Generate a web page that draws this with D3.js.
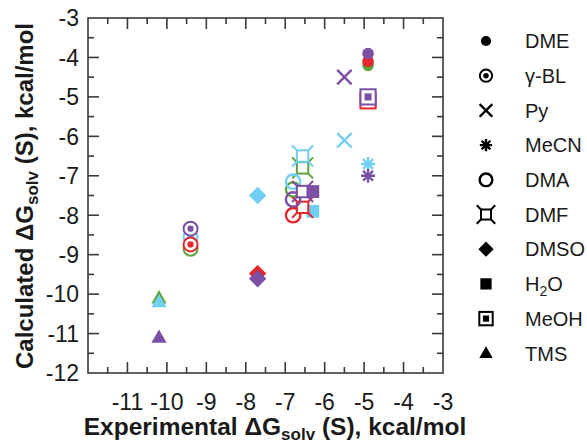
<!DOCTYPE html>
<html>
<head>
<meta charset="utf-8">
<script src="https://cdn.jsdelivr.net/npm/d3@7"></script>
<style>
  body { margin: 0; background: #fff; }
  text { font-family: "Liberation Sans", Arial, Helvetica, sans-serif; fill: #1a1a1a; }
</style>
</head>
<body>
<script>
// solvents, in legend order
var solvents = ["DME", "γ-BL", "Py", "MeCN", "DMA", "DMF", "DMSO", "H2O", "MeOH", "TMS"];
var shapes   = ["dot", "ring", "times", "star", "circle", "dmf", "diamond", "square", "meoh", "triangle"];
// experimental values (x)
var experimental = [-4.9, -9.4, -5.5, -4.9, -6.8, -6.56, -7.7, -6.3, -4.9, -10.2];
// calculated values (y), one array per colour; null = not plotted
var calcGreen  = [-4.2, -8.85, null, null, -7.35, -6.8, null, null, null, -10.1];
var calcBlue   = [null, -8.55, -6.1, -6.7, -7.15, -6.5, -7.5, -7.9, null, -10.2];
var calcRed    = [-4.1, -8.74, null, null, -8.0, -7.8, -9.48, null, -5.1, null];
var calcPurple = [-3.9, -8.34, -4.5, -7.0, -7.6, -7.4, -9.61, -7.4, -5.0, -11.1];
var ticks = [-12, -11, -10, -9, -8, -7, -6, -5, -4, -3];

var series = [
  {color: "#5ea23f", values: calcGreen},
  {color: "#6fcff4", values: calcBlue},
  {color: "#e3272c", values: calcRed},
  {color: "#7b4fa3", values: calcPurple}
];

var W = 587, H = 443;
var m = {left: 88, right: 144, top: 18, bottom: 70};

var svg = d3.select("body").append("svg").attr("width", W).attr("height", H);

var x = d3.scaleLinear().domain([-12, -3]).range([m.left, W - m.right]);
var y = d3.scaleLinear().domain([-12, -3]).range([H - m.bottom, m.top]);

// frame + inward ticks on every side
var halfTicks = d3.range(-12, -2.99, 0.5);
var axisCol = "#3a3a3a";
svg.append("rect")
  .attr("x", x(-12)).attr("y", y(-3))
  .attr("width", x(-3) - x(-12)).attr("height", y(-12) - y(-3))
  .attr("fill", "none").attr("stroke", axisCol).attr("stroke-width", 1.6);

function tlen(v) { return Math.abs(v - Math.round(v)) < 0.01 ? 11 : 6; }
var tk = svg.append("g").attr("stroke", axisCol).attr("stroke-width", 1.6);
halfTicks.forEach(function(v) {
  if (v === -12 || v === -3) return;
  var l = tlen(v);
  tk.append("line").attr("x1", x(v)).attr("x2", x(v)).attr("y1", y(-12)).attr("y2", y(-12) - l);
  tk.append("line").attr("x1", x(v)).attr("x2", x(v)).attr("y1", y(-3)).attr("y2", y(-3) + l);
  tk.append("line").attr("y1", y(v)).attr("y2", y(v)).attr("x1", x(-12)).attr("x2", x(-12) + l);
  tk.append("line").attr("y1", y(v)).attr("y2", y(v)).attr("x1", x(-3)).attr("x2", x(-3) - l);
});

// tick labels
svg.append("g").selectAll("text").data(ticks).join("text")
  .attr("x", m.left - 9).attr("y", function(d) { return y(d); })
  .attr("dy", "0.36em").attr("text-anchor", "end")
  .attr("font-size", 23).text(function(d) { return d; });
svg.append("g").selectAll("text").data(ticks.slice(1)).join("text")
  .attr("x", function(d) { return x(d); }).attr("y", 410)
  .attr("text-anchor", "middle")
  .attr("font-size", 23).text(function(d) { return d; });

// axis titles
var xt = svg.append("text").attr("x", 275).attr("y", 435)
  .attr("text-anchor", "middle").attr("font-size", 24.5).attr("font-weight", "bold");
xt.append("tspan").text("Experimental ΔG");
xt.append("tspan").attr("font-size", 17).attr("dy", 5).text("solv");
xt.append("tspan").attr("dy", -5).text(" (S), kcal/mol");

var yt = svg.append("text").attr("transform", "translate(33,196) rotate(-90)")
  .attr("text-anchor", "middle").attr("font-size", 24).attr("font-weight", "bold");
yt.append("tspan").text("Calculated ΔG");
yt.append("tspan").attr("font-size", 17).attr("dy", 5).text("solv");
yt.append("tspan").attr("dy", -5).text(" (S), kcal/mol");

// marker drawing
function marker(g, shape, col, k) {
  k = k || 1;
  if (shape === "dot") {
    g.append("circle").attr("r", 5.8 * k).attr("fill", col);
  } else if (shape === "ring") {
    g.append("circle").attr("r", 7 * k).attr("fill", "#fff").attr("stroke", col).attr("stroke-width", 2);
    g.append("circle").attr("r", 3.1 * k).attr("fill", col);
  } else if (shape === "times") {
    var s = 7.2 * k;
    g.append("path").attr("d", "M" + -s + "," + -s + "L" + s + "," + s + "M" + -s + "," + s + "L" + s + "," + -s)
      .attr("stroke", col).attr("stroke-width", 2.4).attr("fill", "none");
  } else if (shape === "star") {
    var a = 7 * k, b = a * 0.7071, p = "";
    p += "M0," + -a + "L0," + a + "M" + -a + ",0L" + a + ",0";
    p += "M" + -b + "," + -b + "L" + b + "," + b + "M" + -b + "," + b + "L" + b + "," + -b;
    g.append("path").attr("d", p).attr("stroke", col).attr("stroke-width", 2.4).attr("fill", "none");
  } else if (shape === "circle") {
    g.append("circle").attr("r", 7.2 * k).attr("fill", "none").attr("stroke", col).attr("stroke-width", 2.4);
  } else if (shape === "dmf") {
    var h = 5.7 * k, e = 10.5 * k;
    g.append("rect").attr("x", -h).attr("y", -h).attr("width", 2 * h).attr("height", 2 * h)
      .attr("fill", "#fff").attr("stroke", col).attr("stroke-width", 2);
    g.append("path").attr("d", "M" + -h + "," + -h + "L" + -e + "," + -e + "M" + h + "," + -h + "L" + e + "," + -e +
        "M" + -h + "," + h + "L" + -e + "," + e + "M" + h + "," + h + "L" + e + "," + e)
      .attr("stroke", col).attr("stroke-width", 2);
  } else if (shape === "diamond") {
    var d = 8.7 * k;
    g.append("path").attr("d", "M0," + -d + "L" + d + ",0L0," + d + "L" + -d + ",0Z").attr("fill", col);
  } else if (shape === "square") {
    var q = 6.4 * k;
    g.append("rect").attr("x", -q).attr("y", -q).attr("width", 2 * q).attr("height", 2 * q).attr("fill", col);
  } else if (shape === "meoh") {
    var o = 7.6 * k, i = 3.5 * k;
    g.append("rect").attr("x", -o).attr("y", -o).attr("width", 2 * o).attr("height", 2 * o)
      .attr("fill", "#fff").attr("stroke", col).attr("stroke-width", 2);
    g.append("rect").attr("x", -i).attr("y", -i).attr("width", 2 * i).attr("height", 2 * i).attr("fill", col);
  } else if (shape === "triangle") {
    var t = 7.6 * k;
    g.append("path").attr("d", "M0," + (-t * 1.05) + "L" + t + "," + (t * 0.7) + "L" + -t + "," + (t * 0.7) + "Z").attr("fill", col);
  }
}

// points
var pts = svg.append("g");
series.forEach(function(s) {
  s.values.forEach(function(v, i) {
    if (v === null) return;
    var g = pts.append("g").attr("transform", "translate(" + x(experimental[i]) + "," + y(v) + ")");
    marker(g, shapes[i], s.color);
  });
});

// legend
var leg = svg.append("g");
solvents.forEach(function(name, i) {
  var yy = 41 + i * 34.7;
  marker(leg.append("g").attr("transform", "translate(486," + yy + ")"), shapes[i], "#000", 0.88);
  var t = leg.append("text").attr("x", 525).attr("y", yy).attr("dy", "0.36em").attr("font-size", 20);
  if (name === "H2O") {
    t.append("tspan").text("H");
    t.append("tspan").attr("font-size", 14).attr("dy", 5).text("2");
    t.append("tspan").attr("dy", -5).text("O");
  } else {
    t.text(name);
  }
});
</script>
</body>
</html>
